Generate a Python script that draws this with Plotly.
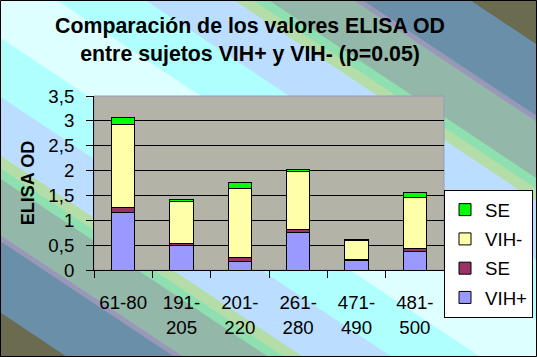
import plotly.graph_objects as go

# ---- data ----
categories = ["61-80", "191-205", "201-220", "261-280", "471-490", "481-500"]
tick_labels = ["61-80", "191-<br>205", "201-<br>220", "261-<br>280", "471-<br>490", "481-<br>500"]
vih_pos = [1.15, 0.49, 0.18, 0.76, 0.19, 0.38]
se_pos = [0.10, 0.05, 0.07, 0.06, 0.03, 0.06]
vih_neg = [1.67, 0.83, 1.39, 1.17, 0.38, 1.01]
se_neg = [0.15, 0.04, 0.13, 0.03, 0.02, 0.10]
series_names = ["VIH+", "SE", "VIH-", "SE"]
series_colors = ["#9999FF", "#993366", "#FFFFAA", "#00FF00"]

FONT = "Liberation Sans, Arial, sans-serif"

# ---- geometry (pixels) ----
W, H = 537, 357
L, R, T, B = 94, 444, 96, 270


def to_paper(px, py):
    return (px - L) / (R - L), (B - py) / (B - T)


def clip(poly, f):
    out = []
    n = len(poly)
    for i in range(n):
        p, q = poly[i], poly[(i + 1) % n]
        fp, fq = f(p), f(q)
        if fp <= 0:
            out.append(p)
        if (fp <= 0) != (fq <= 0):
            s = fp / (fp - fq)
            out.append((p[0] + s * (q[0] - p[0]), p[1] + s * (q[1] - p[1])))
    return out


def tpar(p):
    return p[0] / W - p[1] / H


def band_path(c):
    poly = [(0, 0), (W, 0), (W, H), (0, H)]
    if c is not None:
        poly = clip(poly, lambda p: tpar(p) - c)
        poly = clip(poly, lambda p: -c - tpar(p))
    pts = [to_paper(*p) for p in poly]
    return "M " + " L ".join(f"{x:.5f},{y:.5f}" for x, y in pts) + " Z"


bands = [
    (None, "#6B6B50"),
    (0.875, "#6990A8"),
    (0.675, "#9A98B8"),
    (0.658, "#93B7A8"),
    (0.50, "#8FE0B0"),
    (0.47, "#B5DDA8"),
    (0.435, "#BBDDFF"),
    (0.27, "#B0FFFF"),
    (0.105, "#DDFFFF"),
]

shapes = []
for c, col in bands:
    shapes.append(dict(type="path", xref="paper", yref="paper", path=band_path(c),
                       fillcolor=col, line=dict(width=0), layer="below"))
# plot area background
shapes.append(dict(type="rect", xref="paper", yref="paper", x0=0, x1=1, y0=0, y1=1,
                   fillcolor="#B3B3A7", line=dict(color="#9999BB", width=1), layer="below"))
# outer border
bx0, by0 = to_paper(0.5, 0.5)
bx1, by1 = to_paper(W - 0.5, H - 0.5)
shapes.append(dict(type="rect", xref="paper", yref="paper", x0=bx0, x1=bx1, y0=by1, y1=by0,
                   fillcolor="rgba(0,0,0,0)", line=dict(color="black", width=1), layer="below"))

fig = go.Figure()
legend_ranks = [4, 3, 2, 1]
for i, (name, vals, col) in enumerate(zip(series_names, [vih_pos, se_pos, vih_neg, se_neg], series_colors)):
    fig.add_trace(go.Bar(
        x=categories, y=vals, name=name, legendgroup=f"g{i}", legendrank=legend_ranks[i],
        marker=dict(color=col, line=dict(color="black", width=1)),
        hoverinfo="skip",
    ))

lx, ly = to_paper(533, 190)

fig.update_layout(
    width=W, height=H, autosize=False,
    margin=dict(l=L, r=W - R, t=T, b=H - B, pad=0, autoexpand=False),
    barmode="stack", bargap=0.6,
    separators=",.",
    paper_bgcolor="white", plot_bgcolor="rgba(0,0,0,0)",
    font=dict(family=FONT, color="black", size=18.67),
    shapes=shapes,
    title=dict(
        text="Comparación de los valores ELISA OD<br>entre sujetos VIH+ y VIH- (p=0.05)",
        font=dict(family=FONT, size=21.3, color="black", weight="bold"),
        x=250 / W, xref="container", xanchor="center",
        y=1 - 33 / H, yref="container", yanchor="top",
    ),
    xaxis=dict(
        type="category", tickmode="array", tickvals=categories, ticktext=tick_labels,
        ticks="outside", tickson="boundaries", ticklen=7, tickcolor="black", tickwidth=1,
        showline=True, linecolor="black", linewidth=1, showgrid=False, automargin=False,
        tickfont=dict(family=FONT, size=18.67, color="black"),
        ticklabelstandoff=16,
    ),
    yaxis=dict(
        range=[0, 3.5], dtick=0.5, tick0=0,
        ticks="outside", ticklen=7, tickcolor="black", tickwidth=1,
        showline=True, linecolor="black", linewidth=1, automargin=False,
        showgrid=True, gridcolor="black", gridwidth=1, zeroline=False,
        tickfont=dict(family=FONT, size=18.67, color="black"),
        ticklabelstandoff=8,
        title=dict(text="ELISA OD", font=dict(family=FONT, size=18, color="black", weight="bold"),
                   standoff=9),
    ),
    showlegend=True,
    legend=dict(
        x=lx, y=ly, xanchor="right", yanchor="top",
        traceorder="grouped", tracegroupgap=2,
        bgcolor="white", bordercolor="black", borderwidth=1,
        font=dict(family=FONT, size=18.67, color="black"),
    ),
)

fig.write_html(
    "out.html",
    config={"displayModeBar": False, "staticPlot": True},
    post_script="document.body.style.margin='0';document.body.style.overflow='hidden';",
)
